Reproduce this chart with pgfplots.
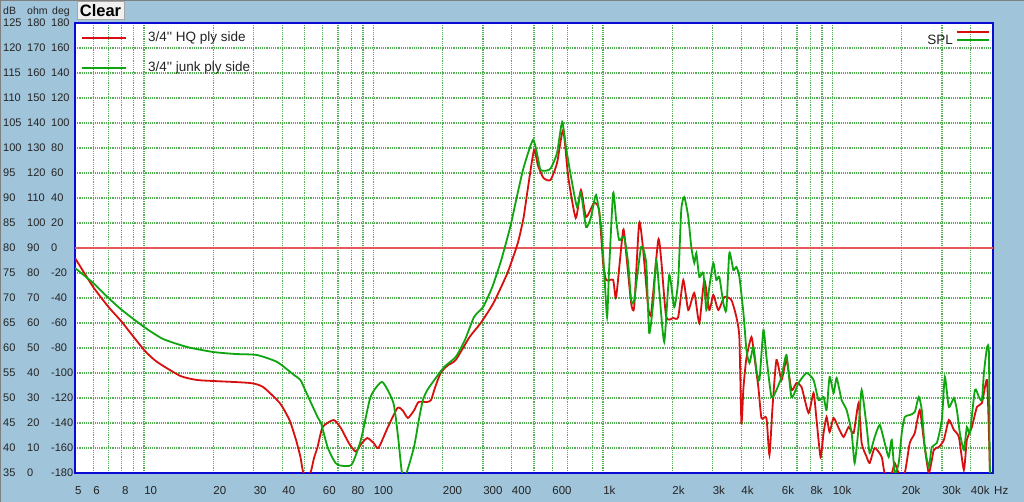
\documentclass[border=0pt]{standalone}
\usepackage{fontspec}
\setmainfont{Liberation Sans}
\newfontfamily\rawfont{Liberation Sans}
\usepackage{pgfplots}
\pgfplotsset{compat=1.18}

\definecolor{winbg}{RGB}{160,196,218}
\definecolor{frameblue}{RGB}{10,10,210}
\definecolor{gridgreen}{RGB}{85,175,85}
\definecolor{curvered}{RGB}{215,15,15}
\definecolor{curvegreen}{RGB}{15,165,15}
\definecolor{refred}{RGB}{228,90,90}
\definecolor{txt}{RGB}{35,35,35}

% three tick columns: dB, ohm, deg
\newcommand{\yl}[3]{\makebox[24pt][l]{#1}\makebox[24pt][l]{#2}#3}

\begin{document}
\begin{tikzpicture}[x=1pt,y=1pt]
  \fill[winbg] (0,0) rectangle (1024,502);
  \draw[gray, line width=1.2pt] (0.6,0) -- (0.6,501.4) -- (1024,501.4);

  % Clear button
  \draw[fill=gray!12, draw=gray!70] (77,483) rectangle (124,501);
  \node[font=\fontsize{16.5}{18}\selectfont\bfseries, text=black] at (100.5,491.5) {Clear};

  % column heads
  \node[anchor=west, inner sep=0pt, font=\fontsize{10.5}{12}\selectfont, text=txt] at (3,490) {\makebox[24pt][l]{dB}\makebox[25pt][l]{ohm}deg};

  \begin{axis}[
    name=a,
    at={(75pt,29pt)}, anchor=south west,
    width=918pt, height=450pt, scale only axis,
    xmode=log, xmin=5, xmax=50000, ymin=35, ymax=125,
    axis background/.style={fill=white},
    axis line style={frameblue, line width=2.5pt},
    xtick={5,6,8,10,20,30,40,60,80,100,200,300,400,600,1000,2000,3000,4000,6000,8000,10000,20000,30000,40000},
    xticklabels={5,6,8,10,20,30,40,60,80,100,200,300,400,600,1k,2k,3k,4k,6k,8k,10k,20k,30k,40k},
    minor xtick={7,9,50,70,90,500,700,900,5000,7000,9000},
    ytick={35,40,...,125},
    yticklabels={\yl{35}{0}{-180},\yl{40}{10}{-160},\yl{45}{20}{-140},\yl{50}{30}{-120},
      \yl{55}{40}{-100},\yl{60}{50}{-80},\yl{65}{60}{-60},\yl{70}{70}{-40},\yl{75}{80}{-20},
      \yl{80}{90}{0},\yl{85}{100}{20},\yl{90}{110}{40},\yl{95}{120}{60},\yl{100}{130}{80},
      \yl{105}{140}{100},\yl{110}{150}{120},\yl{115}{160}{140},\yl{120}{170}{160},\yl{125}{180}{180}},
    major tick length=0pt, minor tick length=0pt,
    grid=both,
    major grid style={gridgreen, line width=1.2pt, dash pattern=on 1.2pt off 1pt},
    minor grid style={gridgreen, line width=1.2pt, dash pattern=on 1.2pt off 1pt},
    xticklabel style={anchor=north west, inner sep=0pt, yshift=-13pt,
      font=\fontsize{11.5}{13}\selectfont, text=txt},
    yticklabel style={anchor=west, inner xsep=0pt, xshift=-72pt,
      font=\fontsize{11}{13}\selectfont, text=txt},
    clip=true,
  ]
    \addplot[refred, line width=1.2pt] coordinates {(5,80) (50000,80)};

    % 3/4'' HQ ply side
    \addplot[curvered, line width=1.8pt, smooth, tension=0.35] coordinates {
      (5,78) (6,72.2) (7,68.2) (8,65.2) (10,59.6) (11.4,57.2) (14.4,54.4) (17,53.6)
      (20,53.4) (29,53) (33,52.2) (39,49) (43,45.6) (46,41.5) (48,38.2) (49.5,35)
      (53,35) (55,38) (57,40.2) (60,44.2) (67,45.6) (72,44) (78,41) (83.5,39.3)
      (89,41) (94,42) (100,41) (105,40) (115,44) (127,48) (134,47.5) (141,46)
      (150,47.5) (157,49.2) (171,49.2) (178,49.6) (185,52) (196,55) (210,56.5)
      (228,57.6) (262,62.2) (293,65) (333,69) (383,75) (425,81) (450,86) (469,91.6)
      (500,99.6) (520,96.5) (550,94) (590,93.6) (630,97) (670,103.6) (705,94.2)
      (760,86) (801,91.6) (843,86.2) (913,89) (961,87.6) (1000,77) (1031,73.6)
      (1106,73.6) (1140,70.2) (1223,83.6) (1260,79) (1325,69) (1366,68.2) (1436,85)
      (1495,79.6) (1572,68.2) (1620,67) (1739,81.6) (1792,77.6) (1884,66.2) (2022,66)
      (2125,66.2) (2236,73.6) (2350,67.6) (2497,71) (2626,65) (2761,73.6) (2903,67.6)
      (3022,70.6) (3178,67.6) (3376,70.2) (3622,69.6) (3809,66.2) (3926,62) (4006,45)
      (4088,52) (4213,58) (4431,62.2) (4564,58.2) (4752,52) (4898,46) (5149,46)
      (5307,38.6) (5470,48) (5693,57.6) (5989,53.6) (6298,57.6) (6622,51.6) (6962,53)
      (7322,52.2) (7857,47) (8260,51) (8514,45.6) (8863,38.2) (9134,43) (9415,46.2)
      (9703,43.2) (10101,46) (10622,44) (11168,42.2) (11745,44.2) (12351,43) (12986,49)
      (13385,41) (14078,38.2) (14509,37) (15258,40) (16368,38.2) (16869,35) (18099,35)
      (18652,37) (19420,35) (20627,35) (21690,41) (22810,43) (23979,47.6) (24964,41.6)
      (26255,35) (27608,39.6) (29035,40.2) (30530,41.6) (32107,45.6) (33765,43.6)
      (35504,42.2) (37330,35.6) (38474,41.6) (40456,44.2) (42540,48.2) (44737,49)
      (47043,53.6) (47995,43) (48479,35)
    };

    % 3/4'' junk ply side
    \addplot[curvegreen, line width=1.8pt, smooth, tension=0.35] coordinates {
      (5,76) (6,73) (7,70) (8,67.6) (10,64.2) (12.1,61.8) (15.4,60.2) (20,59.2)
      (25,58.8) (31,58.6) (38,57.2) (45,54.6) (48,53.6) (51,51) (57,46.2) (59,45)
      (63,40.2) (67,37.6) (70,36.6) (80,36.6) (88,41.6) (97,50.2) (109,53.2) (122,49)
      (128,42) (133,35) (139,35) (150,40.2) (158,46) (164,49.6) (171,51.5) (180,53)
      (203,56.2) (228,58.2) (250,61.6) (274,66.2) (300,68.2) (329,72.2) (360,77.6)
      (394,84.2) (418,89.6) (450,96) (495,101.6) (520,98) (534,95.6) (570,95.5)
      (593,96) (630,99) (663,105.2) (690,100) (725,94.2) (770,88.2) (800,91.2)
      (843,84.2) (886,86.2) (932,90.6) (980,84.2) (1010,75.6) (1041,66.2) (1062,75.6)
      (1106,91) (1140,85.6) (1175,81.6) (1235,82.2) (1286,77) (1325,69.6) (1366,69.6)
      (1465,80.2) (1541,77) (1588,63) (1653,69) (1704,77.6) (1756,71.6) (1847,61.2)
      (1942,74.6) (2042,68.2) (2125,73.6) (2191,87.6) (2258,90.2) (2350,86.2)
      (2423,80.2) (2497,77) (2548,79) (2626,74.2) (2734,75) (2817,67.6) (2903,72.2)
      (3022,77) (3115,73.6) (3210,74.2) (3342,69) (3444,67.6) (3549,79) (3696,75.6)
      (3809,76.2) (3926,74.2) (4088,67) (4213,59.6) (4342,57) (4519,60.2) (4657,55.6)
      (4799,53.6) (4997,63.6) (5149,58.2) (5416,50.2) (5693,51.6) (5989,54.2)
      (6298,58.6) (6622,50.2) (7104,53) (7701,55) (8260,53.6) (8687,49.6) (9134,50.2)
      (9415,47.6) (9703,54.2) (10101,51) (10411,54) (10948,49.6) (11510,47.6)
      (12106,43) (12477,37) (12986,44.2) (13385,51.6) (14078,44.2) (14509,39)
      (15258,42.2) (16044,44.6) (16869,41) (17562,38.2) (18099,41.6) (18652,35)
      (19420,37) (20014,43) (20627,46.2) (21690,46.6) (22810,47.2) (23738,50.2)
      (24466,47.6) (25216,40.2) (26255,36.2) (27060,40.2) (28455,41) (29923,45.6)
      (30838,54.2) (32107,48.2) (33765,50) (34799,47.6) (35861,43) (37330,39.6)
      (38474,44.2) (39653,43) (41696,51.6) (43407,50.2) (44737,49.6) (45643,55)
      (47043,60) (47995,59) (48479,35.6) (50000,35)
    };
  \end{axis}

  % legend, top left
  \draw[curvered, line width=1.8pt] (82,464) -- (126,464);
  \draw[curvegreen, line width=1.8pt] (82,434) -- (126,434);
  \node[anchor=west, inner sep=0pt, font=\rawfont\fontsize{13.5}{15}\selectfont, text=txt] at (148,463.5) {3/4'' HQ ply side};
  \node[anchor=west, inner sep=0pt, font=\rawfont\fontsize{13.5}{15}\selectfont, text=txt] at (148,433.5) {3/4'' junk ply side};

  % SPL key, top right
  \node[anchor=east, inner sep=0pt, font=\fontsize{13.5}{15}\selectfont, text=txt] at (953,462) {SPL};
  \draw[curvered, line width=1.6pt] (957,470) -- (989,470);
  \draw[curvegreen, line width=1.6pt] (957,462) -- (989,462);

  % frequency unit
  \node[anchor=north west, inner sep=0pt, font=\fontsize{11.5}{13}\selectfont, text=txt] at (994,16) {Hz};

  \pgfresetboundingbox
  \path[use as bounding box] (0,0) rectangle (1024,502);
\end{tikzpicture}
\end{document}
